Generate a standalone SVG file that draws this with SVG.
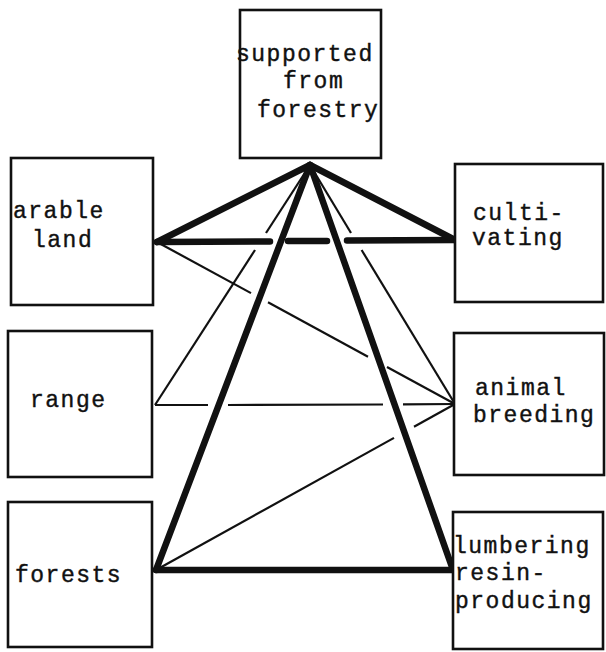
<svg xmlns="http://www.w3.org/2000/svg" width="606" height="652" viewBox="0 0 606 652">
<style>
.box{fill:#fff;stroke:#111;stroke-width:2.6}
.t{font-family:"Liberation Mono","DejaVu Sans Mono",monospace;font-size:23px;letter-spacing:1.5px;fill:#111;stroke:#111;stroke-width:0.4}
.thick{stroke:#111;stroke-width:6.5;stroke-linecap:round;fill:none}
.thin{stroke:#111;stroke-width:2.2;stroke-linecap:butt;fill:none}
</style>
<rect width="606" height="652" fill="#fff"/>
<g id="connectors">
  <g class="thin">
    <line x1="310" y1="165" x2="266" y2="233"/>
    <line x1="255" y1="250" x2="155" y2="405"/>
    <line x1="310" y1="165" x2="351" y2="233"/>
    <line x1="361.6" y1="250" x2="455" y2="404"/>
    <line x1="157" y1="242" x2="251" y2="293.1"/>
    <line x1="268" y1="302.3" x2="368" y2="356.7"/>
    <line x1="387" y1="367" x2="455" y2="404"/>
    <line x1="155" y1="405" x2="208" y2="405"/>
    <line x1="228" y1="405" x2="383" y2="404.5"/>
    <line x1="403" y1="404.3" x2="455" y2="404"/>
    <line x1="156" y1="570" x2="394" y2="437.9"/>
    <line x1="414" y1="426.8" x2="455" y2="404"/>
  </g>
  <g class="thick">
    <line x1="157" y1="242" x2="270" y2="241.5"/>
    <line x1="288" y1="241" x2="327" y2="241"/>
    <line x1="347" y1="240.5" x2="455" y2="240"/>
    <line x1="310" y1="165" x2="157" y2="242"/>
    <line x1="310" y1="165" x2="455" y2="240"/>
    <line x1="310" y1="165" x2="156" y2="570"/>
    <line x1="310" y1="165" x2="453" y2="570"/>
    <line x1="156" y1="570" x2="453" y2="570"/>
  </g>
</g>
<g id="supported">
  <rect class="box" x="240" y="10" width="141" height="148"/>
  <text class="t" x="236" y="61">supported</text>
  <text class="t" x="283" y="88">from</text>
  <text class="t" x="257" y="117">forestry</text>
</g>
<g id="arable">
  <rect class="box" x="11" y="158" width="142" height="147"/>
  <text class="t" x="13" y="218">arable</text>
  <text class="t" x="32" y="247">land</text>
</g>
<g id="cultivating">
  <rect class="box" x="455" y="164" width="148" height="138"/>
  <text class="t" x="473" y="220">culti-</text>
  <text class="t" x="472" y="245">vating</text>
</g>
<g id="range">
  <rect class="box" x="8" y="331" width="144" height="146"/>
  <text class="t" x="30" y="407">range</text>
</g>
<g id="animal">
  <rect class="box" x="454" y="333" width="150" height="142"/>
  <text class="t" x="475" y="395">animal</text>
  <text class="t" x="473" y="422">breeding</text>
</g>
<g id="forests">
  <rect class="box" x="8" y="502" width="144" height="145"/>
  <text class="t" x="15" y="582">forests</text>
</g>
<g id="lumbering">
  <rect class="box" x="453" y="512" width="150" height="137"/>
  <text class="t" x="453" y="553">lumbering</text>
  <text class="t" x="455" y="580">resin-</text>
  <text class="t" x="455" y="608">producing</text>
</g>
</svg>
